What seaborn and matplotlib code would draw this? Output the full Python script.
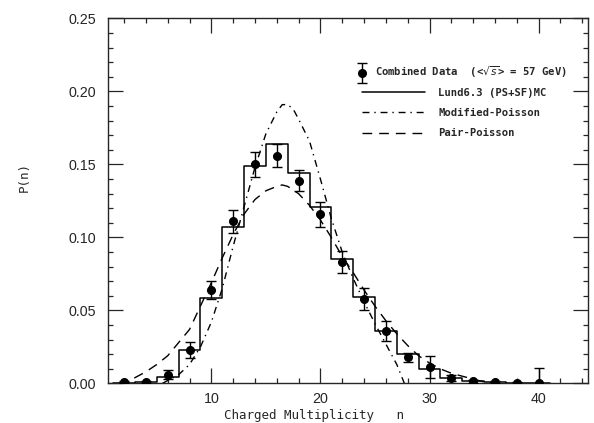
import numpy as np
import pandas as pd
import matplotlib
matplotlib.use("Agg")
import matplotlib.pyplot as plt
import seaborn as sns
from matplotlib.ticker import MultipleLocator, FormatStrFormatter
from matplotlib.legend_handler import HandlerErrorbar
from matplotlib.container import ErrorbarContainer
from matplotlib.lines import Line2D

# ---------------- data ----------------
data_n = [2, 4, 6, 8, 10, 12, 14, 16, 18, 20, 22, 24, 26, 28, 30, 32, 34, 36, 38, 40]
data_p = [0.001, 0.001, 0.006, 0.023, 0.064, 0.111, 0.150, 0.156, 0.139, 0.116,
          0.083, 0.058, 0.036, 0.018, 0.011, 0.0035, 0.0015, 0.0008, 0.0004, 0.0003]
data_err = [0.0008, 0.0008, 0.003, 0.0057, 0.006, 0.008, 0.0087, 0.0078, 0.007, 0.0085,
            0.0075, 0.0075, 0.007, 0.003, 0.0075, 0.002, 0.001, 0.0008, 0.0005, 0.010]

mc_n = [2, 4, 6, 8, 10, 12, 14, 16, 18, 20, 22, 24, 26, 28, 30, 32, 34, 36, 38, 40]
mc_p = [0.0005, 0.0008, 0.0045, 0.023, 0.0585, 0.107, 0.149, 0.164, 0.144, 0.121,
        0.085, 0.0595, 0.036, 0.0205, 0.010, 0.004, 0.002, 0.001, 0.0005, 0.0003]

mp_n = [5.5, 6, 7, 8, 9, 10, 11, 12, 13, 14, 15, 16, 16.5, 17, 17.5, 18, 19, 20,
        21, 22, 23, 24, 25, 26, 27, 27.7]
mp_p = [0.0, 0.002, 0.006, 0.013, 0.025, 0.042, 0.065, 0.094, 0.121, 0.148, 0.171,
        0.186, 0.191, 0.191, 0.188, 0.181, 0.166, 0.140, 0.113, 0.090, 0.072, 0.056,
        0.041, 0.027, 0.013, 0.0]

pp_n = [1.5, 2.5, 4, 5, 6, 7, 8, 9, 10, 11, 12, 13, 14, 15, 16, 16.5, 17, 18, 19, 20,
        21, 22, 23, 24, 25, 26, 27, 28, 29, 30, 31, 32, 33, 34, 35, 36]
pp_p = [0.0, 0.002, 0.008, 0.013, 0.019, 0.028, 0.037, 0.053, 0.069, 0.086, 0.102,
        0.116, 0.126, 0.132, 0.135, 0.136, 0.135, 0.130, 0.122, 0.112, 0.100, 0.087,
        0.076, 0.064, 0.053, 0.043, 0.034, 0.026, 0.019, 0.014, 0.010, 0.007, 0.005,
        0.003, 0.001, 0.0]

labels = ["Combined Data  (<$\\sqrt{s}$> = 57 GeV)", "Lund6.3 (PS+SF)MC",
          "Modified-Poisson", "Pair-Poisson"]

# ---------------- style ----------------
sns.set_style("ticks")
plt.rcParams['font.family'] = ['Liberation Sans', 'DejaVu Sans']
plt.rcParams['axes.linewidth'] = 1.0

fig = plt.figure(figsize=(5.94, 4.23), dpi=100)
ax = fig.add_axes([0.1813, 0.0934, 0.8081, 0.8629])

# MC histogram
mc_df = pd.DataFrame({"n": mc_n, "p": mc_p})
edges = [float(v - 1) for v in mc_n] + [float(mc_n[-1] + 1)]
sns.histplot(data=mc_df, x="n", weights="p", bins=edges, element="step", fill=False,
             color="black", linewidth=1.1, ax=ax)

# Model curves
sns.lineplot(x=mp_n, y=mp_p, color="black", linewidth=1.0,
             linestyle=(0, (5, 3.5, 1, 3.5)), ax=ax, sort=False)
mp_line = ax.lines[-1]
sns.lineplot(x=pp_n, y=pp_p, color="black", linewidth=1.0,
             linestyle=(0, (7, 5)), ax=ax, sort=False)
pp_line = ax.lines[-1]

# Data points
eb = ax.errorbar(data_n, data_p, yerr=data_err, fmt='o', color='black', ms=5.5,
                 capsize=3.6, elinewidth=1.0, capthick=1.0, zorder=5)

ax.set_xlim(0.5, 44.5)
ax.set_ylim(0, 0.25)
ax.xaxis.set_major_locator(MultipleLocator(10))
ax.xaxis.set_minor_locator(MultipleLocator(2))
ax.yaxis.set_major_locator(MultipleLocator(0.05))
ax.yaxis.set_minor_locator(MultipleLocator(0.01))
ax.yaxis.set_major_formatter(FormatStrFormatter('%.2f'))
ax.tick_params(which='both', direction='in', top=True, right=True, width=0.9,
               labelsize=10.3)
ax.tick_params(which='major', length=10.5)
ax.tick_params(which='minor', length=3.6)
ax.tick_params(axis='x', which='major', pad=6.0)
ax.tick_params(axis='y', which='major', pad=8.5)

ax.set_xlabel("Charged Multiplicity   n", family='DejaVu Sans Mono', size=9.0)
ax.set_ylabel("P(n)", family='DejaVu Sans Mono', size=9.0)
ax.xaxis.label.set_va('center')
ax.yaxis.label.set_va('center')
ax.xaxis.set_label_coords(0.430, -0.089)
ax.yaxis.set_label_coords(-0.174, 0.567)

# Legends
mc_handle = Line2D([], [], color='black', linewidth=1.1)
prop = dict(family='DejaVu Sans Mono', weight='bold', size=7.6)
leg1 = ax.legend([eb], [labels[0]], loc='upper left', bbox_to_anchor=(0.5215, 0.873),
                 bbox_transform=ax.transAxes, frameon=False, borderpad=0,
                 borderaxespad=0, handlelength=0.75, handletextpad=0.85, prop=prop,
                 handler_map={ErrorbarContainer: HandlerErrorbar(yerr_size=0.95)})
ax.add_artist(leg1)
ax.legend([mc_handle, mp_line, pp_line], labels[1:], loc='upper left',
          bbox_to_anchor=(0.530, 0.8105), bbox_transform=ax.transAxes,
          frameon=False, borderpad=0, borderaxespad=0, handlelength=6.0,
          handletextpad=1.23, labelspacing=0.98, prop=prop)

fig.savefig("out.png", dpi=100)
